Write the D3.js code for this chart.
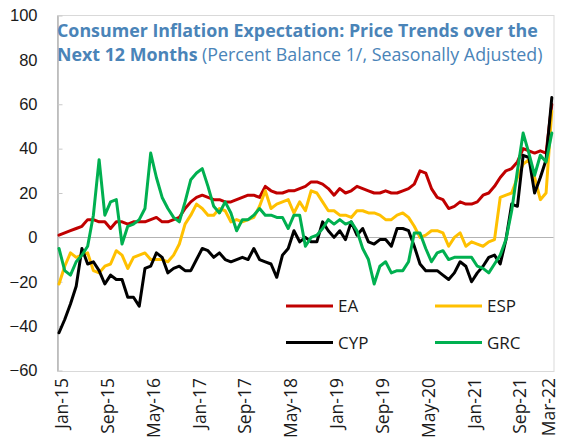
<!DOCTYPE html>
<html>
<head>
<meta charset="utf-8">
<script src="https://cdn.jsdelivr.net/npm/d3@7"></script>
<style>
  body { margin: 0; background: #fff; }
  svg { display: block; }
</style>
</head>
<body>
<script>
var width = 562;
var height = 441;

// monthly categories Jan-15 .. Mar-22
var months = d3.timeMonths(new Date(2015, 0, 1), new Date(2022, 3, 1)).map(d3.timeFormat("%b-%y"));
var tickLabels = ["Jan-15", "Sep-15", "May-16", "Jan-17", "Sep-17", "May-18", "Jan-19",
                  "Sep-19", "May-20", "Jan-21", "Sep-21", "Mar-22"];
var yTicks = [-60, -40, -20, 0, 20, 40, 60, 80, 100];

var ea = [1, 2, 3, 4, 5, 8, 8, 7, 7, 4,
          7, 7, 6, 7, 7, 7, 8, 9, 7, 7,
          8, 9, 13, 16, 18, 19, 18, 17, 17, 16,
          16, 17, 18, 19, 19, 18, 23, 21, 20, 20,
          21, 21, 22, 23, 25, 25, 24, 22, 19, 22,
          20, 21, 23, 22, 21, 20, 20, 21, 20, 20,
          21, 22, 24, 30, 29, 22, 18, 17, 13, 14,
          16, 15, 15, 16, 19, 20, 23, 27, 30, 31,
          34, 40, 39, 38, 39, 38, 60];
var esp = [-21, -13, -7, -9, -8, -7, -15, -16, -13, -12,
           -6, -8, -14, -9, -8, -7, -10, -10, -10, -11,
           -8, -3, 6, 10, 15, 13, 10, 10, 13, 12,
           7, 8, 7, 8, 9, 14, 21, 13, 15, 16,
           17, 11, 16, 12, 21, 20, 16, 12, 12, 10,
           10, 9, 12, 12, 11, 11, 10, 8, 8, 10,
           11, 9, 5, 0, 1, 3, 3, 2, -4, 0,
           2, -4, -2, -3, -4, -2, -1, 18, 19, 20,
           27, 33, 35, 27, 17, 20, 57];
var cyp = [-43, -37, -30, -22, -5, -12, -11, -15, -21, -17,
           -19, -19, -27, -27, -31, -14, -13, -7, -9, -16,
           -14, -13, -15, -15, -10, -5, -6, -9, -7, -10,
           -11, -10, -9, -10, -5, -10, -11, -12, -18, -8,
           -5, 3, -2, 0, -2, -2, 7, 3, 0, 3,
           -1, 7, 1, 4, -2, -3, -1, -1, -4, 4,
           4, 3, -4, -12, -15, -15, -15, -17, -19, -16,
           -11, -13, -20, -16, -13, -9, -8, -12, -1, 15,
           14, 37, 36, 20, 27, 35, 63];
var grc = [-5, -15, -17, -11, -8, -4, 10, 35, 10, 16,
           17, -3, 5, 6, 8, 13, 38, 27, 18, 13,
           9, 7, 16, 26, 29, 31, 23, 14, 11, 16,
           11, 3, 8, 8, 10, 13, 10, 10, 9, 9,
           4, 10, 10, -4, 0, 1, 4, 8, 6, 8,
           6, 7, 3, -5, -10, -21, -13, -11, -16, -15,
           -15, -11, 2, 2, -5, -11, -7, -6, -10, -9,
           -9, -9, -9, -13, -14, -16, -12, -8, -1, 12,
           30, 47, 38, 28, 37, 34, 47];

var seriesNames = ["EA", "ESP", "CYP", "GRC"];
var seriesColors = ["#C00000", "#FFC000", "#000000", "#00B050"];
var seriesValues = [ea, esp, cyp, grc];

var svg = d3.select("body").append("svg")
  .attr("width", width)
  .attr("height", height);

var plotLeft = 57, plotRight = 553.5, plotTop = 15, plotBottom = 371;

var x = d3.scalePoint()
  .domain(months)
  .range([59, 551.8]);

var y = d3.scaleLinear()
  .domain([-60, 100])
  .range([370.5, 15.5]);

// plot frame
svg.append("rect")
  .attr("x", plotLeft + 0.5)
  .attr("y", plotTop + 0.5)
  .attr("width", plotRight - plotLeft)
  .attr("height", plotBottom - plotTop)
  .attr("fill", "none")
  .attr("stroke", "#d9d9d9");

// zero line
svg.append("line")
  .attr("x1", plotLeft)
  .attr("x2", plotRight)
  .attr("y1", Math.round(y(0)) + 0.5)
  .attr("y2", Math.round(y(0)) + 0.5)
  .attr("stroke", "#b3b3b3");

// y axis
var yAxis = svg.append("g")
  .attr("transform", "translate(" + (plotLeft + 0.5) + ",0)")
  .call(d3.axisLeft(y).tickValues(yTicks).tickSizeInner(-5).tickSizeOuter(0).tickPadding(20));
yAxis.select(".domain").attr("stroke", "#b3b3b3").attr("stroke-width", 1.5);
yAxis.selectAll(".tick line").attr("stroke", "#c8c8c8");
yAxis.selectAll("text")
  .attr("fill", "#1a1a1a")
  .style("font-family", "'Liberation Sans', Arial, sans-serif")
  .style("font-size", "16.5px");

// x axis labels (last one pulled inward so it fits, like Excel does)
var xAxis = svg.append("g")
  .attr("transform", "translate(0,378)")
  .call(d3.axisBottom(x).tickValues(tickLabels).tickSize(0));
xAxis.select(".domain").remove();
xAxis.selectAll("text")
  .attr("x", 0)
  .attr("y", 0)
  .attr("dy", function(d) { return d === "Mar-22" ? "2.5px" : "8.5px"; })
  .attr("transform", "rotate(-90)")
  .style("text-anchor", "end")
  .attr("fill", "#1a1a1a")
  .style("font-family", "'Open Sans', sans-serif")
  .style("font-size", "17.5px");

// series lines
var line = d3.line()
  .x(function(d, i) { return x(months[i]); })
  .y(function(d) { return y(d); })
  .curve(d3.curveLinear);

seriesValues.forEach(function(vals, k) {
  svg.append("path")
    .attr("d", line(vals))
    .attr("fill", "none")
    .attr("stroke", seriesColors[k])
    .attr("stroke-width", 3)
    .attr("stroke-linejoin", "round")
    .attr("stroke-linecap", "round");
});

// legend
var legendPos = [[286, 306], [435, 306], [286, 342.5], [435, 342.5]];
seriesNames.forEach(function(name, k) {
  var g = svg.append("g").attr("transform", "translate(" + legendPos[k][0] + "," + legendPos[k][1] + ")");
  g.append("line")
    .attr("x1", 0).attr("x2", 47)
    .attr("stroke", seriesColors[k])
    .attr("stroke-width", 3);
  g.append("text")
    .attr("x", 52)
    .attr("y", 6)
    .attr("fill", "#1a1a1a")
    .style("font-family", "'Open Sans', sans-serif")
    .style("font-size", "17px")
    .text(name);
});

// title
var titleColor = "#4a84b8";
var title = svg.append("g").style("font-family", "'Open Sans', sans-serif").attr("fill", titleColor);
var t1 = title.append("text")
  .attr("x", 57)
  .attr("y", 37)
  .style("font-weight", "bold")
  .style("font-size", "17px")
  .text("Consumer Inflation Expectation: Price Trends over the");
var fs = 17 * 481 / t1.node().getComputedTextLength();
t1.style("font-size", fs + "px");

var t2 = title.append("text")
  .attr("x", 57)
  .attr("y", 61)
  .style("font-size", fs + "px");
t2.append("tspan").style("font-weight", "bold").text("Next 12 Months");
t2.append("tspan").text(" (Percent Balance 1/, Seasonally Adjusted)");
</script>
</body>
</html>
